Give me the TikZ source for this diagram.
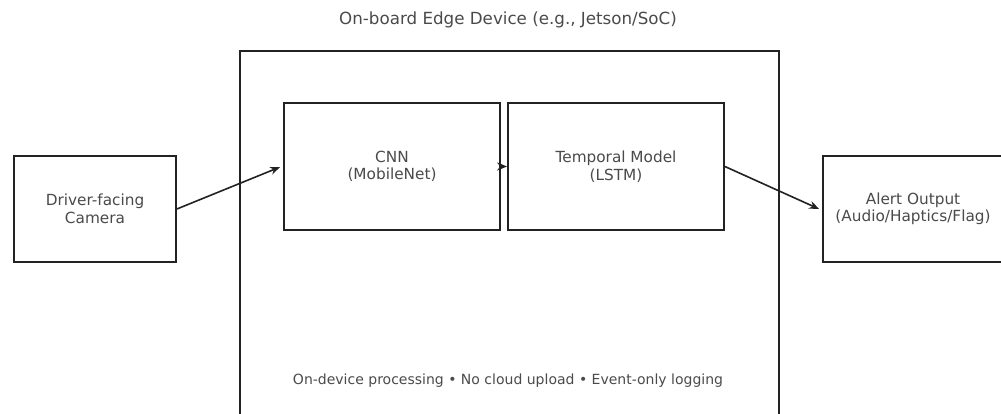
\documentclass[tikz,border=0pt]{standalone}
\usepackage{fontspec}
\setmainfont{DejaVu Sans}
\usetikzlibrary{arrows.meta}
\definecolor{edge}{HTML}{222222}
\definecolor{ink}{HTML}{4a4a4a}
\tikzset{
  block/.style={draw=edge, line width=1.8pt, fill=white, align=center,
    font=\fontsize{15.3}{17.5}\selectfont, text=ink, inner sep=0pt},
  flow/.style={draw=edge, line width=1.6pt, -{Stealth[length=10pt,width=8pt]}},
  note/.style={text=ink, inner sep=0pt}
}
\begin{document}
\begin{tikzpicture}[x=1pt, y=-1pt]
  \useasboundingbox (0,0) rectangle (1001,414);
  % device enclosure, open at the bottom of the page
  \node[draw=edge, line width=1.8pt, minimum width=539pt, minimum height=380pt,
        anchor=north west, inner sep=0pt] (device) at (239,50) {};
  \node[note, font=\fontsize{16.7}{19}\selectfont] (title) at (508,20)
        {On-board Edge Device (e.g., Jetson/SoC)};
  \node[note, font=\fontsize{14}{16}\selectfont] (footer) at (508,381)
        {On-device processing • No cloud upload • Event-only logging};
  % pipeline stages
  \node[block, minimum width=162pt, minimum height=106pt] (cam) at (95,209)
        {Driver-facing\\Camera};
  \node[block, minimum width=216pt, minimum height=127pt] (cnn) at (392,166.5)
        {CNN\\(MobileNet)};
  \node[block, minimum width=216pt, minimum height=127pt] (lstm) at (616,166.5)
        {Temporal Model\\(LSTM)};
  \node[block, minimum width=180pt, minimum height=106pt] (alert) at (913,209)
        {Alert Output\\(Audio/Haptics/Flag)};
  % data flow
  \draw[flow] (cam.east) -- ([xshift=-3pt,yshift=-0.5pt]cnn.west);
  \draw[flow] (cnn.east) -- (lstm.west);
  \draw[flow] (lstm.east) -- ([xshift=-3pt]alert.west);
\end{tikzpicture}
\end{document}
